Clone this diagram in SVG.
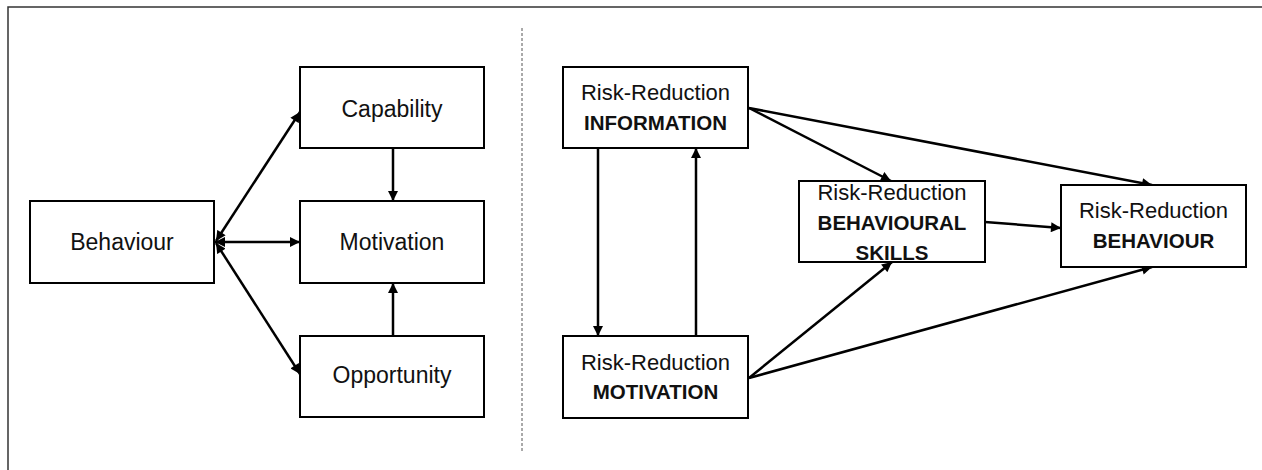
<svg xmlns="http://www.w3.org/2000/svg" width="1262" height="470" viewBox="0 0 1262 470">
<defs>
<marker id="ah" viewBox="0 0 10 10" refX="10" refY="5" markerWidth="11" markerHeight="10" markerUnits="userSpaceOnUse" orient="auto-start-reverse">
<path d="M0,0 L10,5 L0,10 z" fill="#000"/>
</marker>
<style>
.box{fill:#fff;stroke:#000;stroke-width:2}
.t{font-family:"Liberation Sans",Arial,sans-serif;font-size:23px;fill:#111;text-anchor:middle}
.r{font-family:"Liberation Sans",Arial,sans-serif;font-size:22px;fill:#111;text-anchor:middle}
.b{font-family:"Liberation Sans",Arial,sans-serif;font-size:20.5px;font-weight:bold;fill:#111;text-anchor:middle}
.c{stroke:#000;stroke-width:2.5;fill:none;marker-end:url(#ah)}
.d{marker-start:url(#ah)}
</style>
</defs>
<rect width="1262" height="470" fill="#fff"/>
<g id="frame">
<path d="M8,470 V7 H1262" fill="none" stroke="#333" stroke-width="1.5"/>
<line x1="522" y1="28" x2="522" y2="452" stroke="#555" stroke-width="1" stroke-dasharray="3,2"/>
</g>
<g id="connectors">
<line class="c" x1="393" y1="148" x2="393" y2="201"/>
<line class="c" x1="393" y1="336" x2="393" y2="283"/>
<line class="c d" x1="215" y1="242" x2="300" y2="242"/>
<line class="c d" x1="216" y1="241" x2="300" y2="112"/>
<line class="c d" x1="216" y1="243" x2="300" y2="374"/>
<line class="c" x1="598" y1="148" x2="598" y2="336"/>
<line class="c" x1="696" y1="336" x2="696" y2="148"/>
<line class="c" x1="749" y1="108" x2="891" y2="181"/>
<line class="c" x1="749" y1="108" x2="1152" y2="185"/>
<line class="c" x1="985" y1="222" x2="1061" y2="228"/>
<line class="c" x1="749" y1="378" x2="892" y2="262"/>
<line class="c" x1="749" y1="378" x2="1152" y2="267"/>
</g>
<g id="capability"><rect class="box" x="300" y="67" width="184" height="81"/><text class="t" x="392" y="117">Capability</text></g>
<g id="motivation"><rect class="box" x="300" y="201" width="184" height="82"/><text class="t" x="392" y="250">Motivation</text></g>
<g id="opportunity"><rect class="box" x="300" y="336" width="184" height="81"/><text class="t" x="392" y="383">Opportunity</text></g>
<g id="behaviour"><rect class="box" x="30" y="201" width="184" height="82"/><text class="t" x="122" y="250">Behaviour</text></g>
<g id="rr-information"><rect class="box" x="563" y="67" width="185" height="81"/><text class="r" x="655.5" y="100">Risk-Reduction</text><text class="b" x="655.5" y="130" font-size="21">INFORMATION</text></g>
<g id="rr-motivation"><rect class="box" x="563" y="336" width="185" height="82"/><text class="r" x="655.5" y="370">Risk-Reduction</text><text class="b" x="655.5" y="399" font-size="21">MOTIVATION</text></g>
<g id="rr-skills"><rect class="box" x="799" y="181" width="186" height="81"/><text class="r" x="892" y="200">Risk-Reduction</text><text class="b" x="892" y="230">BEHAVIOURAL</text><text class="b" x="892" y="260">SKILLS</text></g>
<g id="rr-behaviour"><rect class="box" x="1061" y="185" width="185" height="82"/><text class="r" x="1153.5" y="218">Risk-Reduction</text><text class="b" x="1153.5" y="248">BEHAVIOUR</text></g>
</svg>
